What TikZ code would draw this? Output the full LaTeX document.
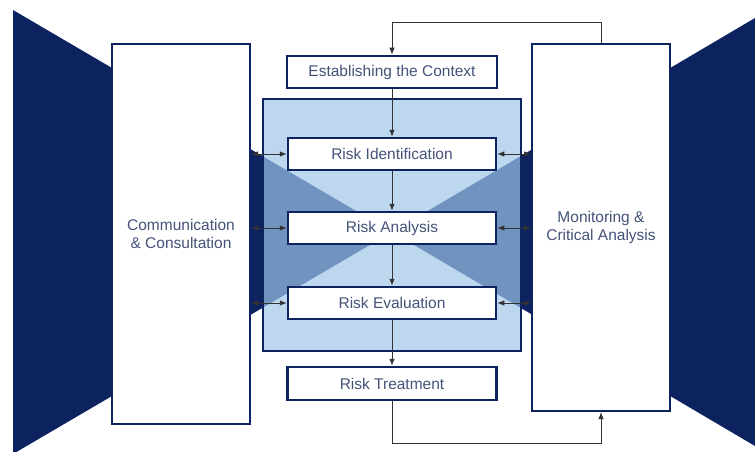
\documentclass[tikz,border=0pt]{standalone}
\usepackage{fontspec}
\setmainfont{Liberation Sans}
\usetikzlibrary{arrows.meta}
\definecolor{navy}{HTML}{0C2360}
\definecolor{midblue}{HTML}{7193BF}
\definecolor{paleblue}{HTML}{BDD7EE}
\definecolor{labelgray}{HTML}{45537A}
\definecolor{linegray}{HTML}{333333}

\tikzset{
  stagebox/.style={draw=navy, line width=2.5pt, fill=white, minimum width=208pt,
    minimum height=32pt, inner sep=0pt, text=labelgray,
    font=\fontsize{15.5}{18}\selectfont},
  sidebox/.style={stagebox, line width=2pt, minimum width=138pt, align=center},
  flow/.style={linegray, line width=0.9pt, ->},
  twoway/.style={linegray, line width=0.9pt, <->}
}

\begin{document}
\begin{tikzpicture}[x=1pt, y=-1pt, >={Latex[length=7pt, width=5.5pt]}]
      \useasboundingbox (0,0) rectangle (755,452);
      \fill [navy] (13,10) -- (392,232) -- (13,454) -- cycle;
      \fill [navy] (755,18) -- (392,232) -- (755,446) -- cycle;
      \fill [paleblue] (263,99) rectangle (521,351);
      \begin{scope}
        \clip (263,99) rectangle (521,351);
        \fill [midblue] (13,10) -- (392,232) -- (13,454) -- cycle;
        \fill [midblue] (755,18) -- (392,232) -- (755,446) -- cycle;
      \end{scope}
      \draw [navy, line width=2pt] (263,99) rectangle (521,351);
      \node [stagebox, minimum width=210pt] (context) at (392,72) {Establishing the Context};
      \node [stagebox] (identify) at (392,154) {Risk Identification};
      \node [stagebox] (analyse) at (392,228) {Risk Analysis};
      \node [stagebox] (evaluate) at (392,303) {Risk Evaluation};
      \node [stagebox, minimum width=209pt, minimum height=33pt] (treat) at (392,383.5) {Risk Treatment};
      \node [sidebox, minimum height=380pt] (consult) at (181,234) {Communication\\ \& Consultation};
      \node [sidebox, minimum height=367pt] (monitor) at (601,227.5) {Monitoring \&\\ Critical Analysis};
      \coordinate (looptop) at (392,22);
      \coordinate (loopbottom) at (392,443);
      \draw [flow] (monitor.north) |- (looptop) -- (context.north);
      \draw [flow] (context) -- (identify);
      \draw [flow] (identify) -- (analyse);
      \draw [flow] (analyse) -- (evaluate);
      \draw [flow] (evaluate) -- (treat);
      \draw [flow] (treat) -- (loopbottom) -| (monitor.south);
      \draw [twoway] (consult.east |- identify) -- (identify.west);
      \draw [twoway] (consult.east |- analyse) -- (analyse.west);
      \draw [twoway] (consult.east |- evaluate) -- (evaluate.west);
      \draw [twoway] (identify.east) -- (monitor.west |- identify);
      \draw [twoway] (analyse.east) -- (monitor.west |- analyse);
      \draw [twoway] (evaluate.east) -- (monitor.west |- evaluate);
\end{tikzpicture}
\end{document}
